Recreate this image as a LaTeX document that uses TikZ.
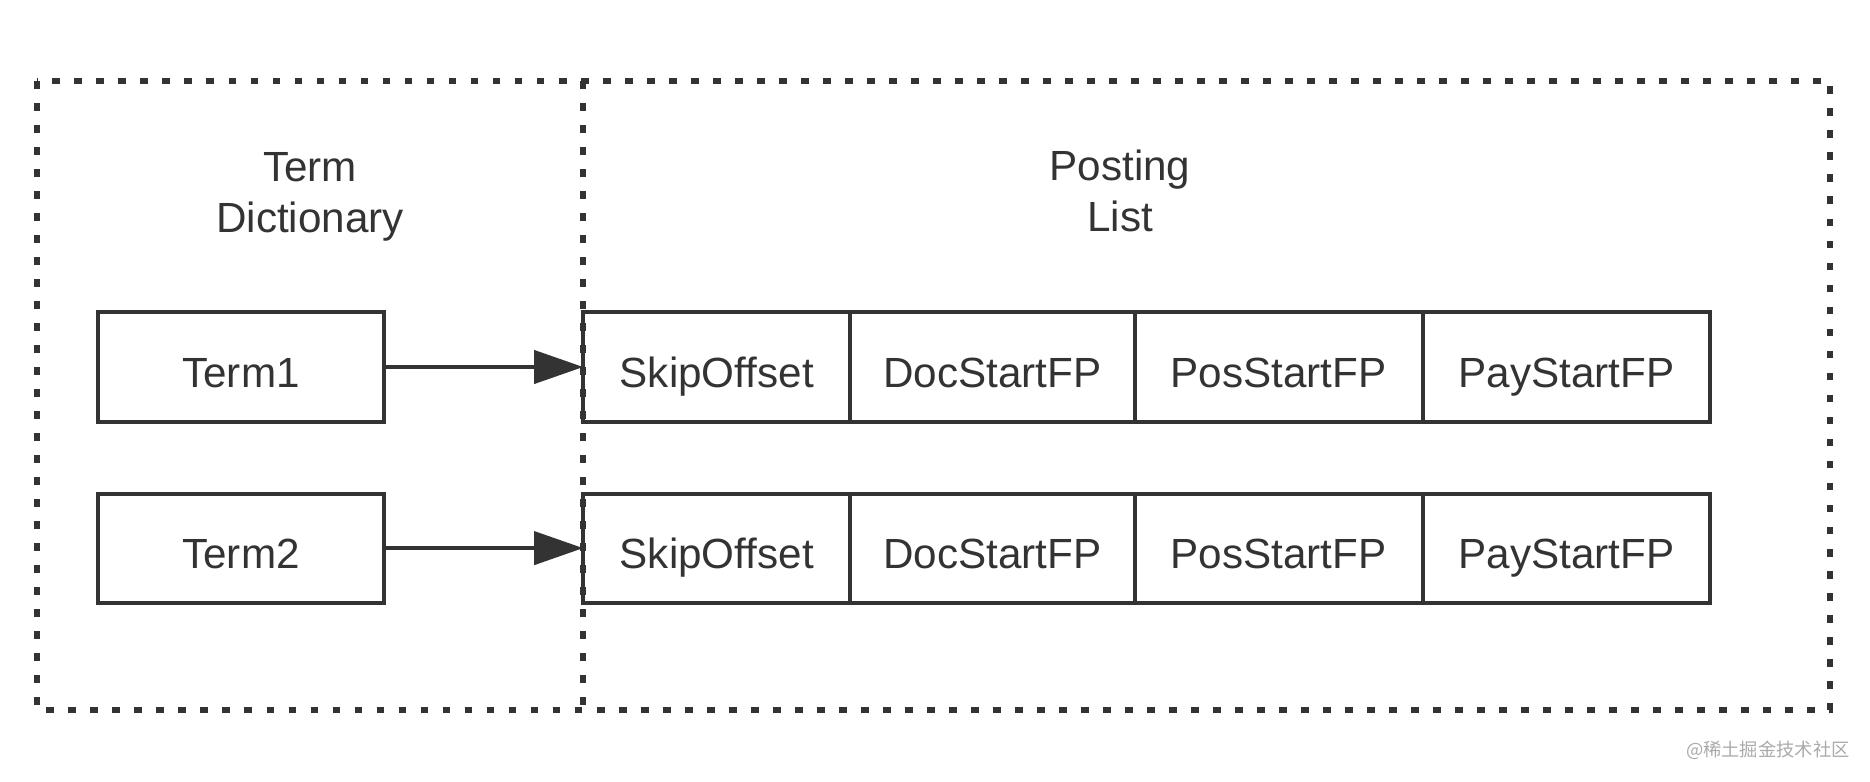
\documentclass[tikz,border=0pt]{standalone}
\usepackage{fontspec}
\setmainfont{Liberation Sans}
\newfontfamily\cjkfont{Noto Sans CJK SC}
\usepackage{xcolor}
\usetikzlibrary{arrows.meta,positioning}
\definecolor{inkgray}{RGB}{51,51,51}
\definecolor{markgray}{RGB}{170,170,170}

\begin{document}
\begin{tikzpicture}[x=0.01cm,y=-0.01cm,node distance=0.72cm and 1.99cm,
  cell/.style={draw=inkgray,line width=0.04cm,minimum height=1.09cm,outer sep=0pt,
    inner sep=0pt,text height=14.2pt,text depth=2.5pt,text=inkgray,font=\fontsize{12}{14}\selectfont},
  termbox/.style={cell,minimum width=2.86cm},
  title/.style={align=center,text=inkgray,font=\fontsize{12}{14.5}\selectfont},
  frame/.style={draw=inkgray,line width=0.058cm,dash pattern=on 0.078cm off 0.142cm},
  arr/.style={-{Triangle[length=0.49cm,width=0.33cm]},line width=0.04cm,draw=inkgray}]
\useasboundingbox (0,0) rectangle (1870,782);
% frames
\draw[frame] (37,81) rectangle (1830,710);
\draw[frame] (583,81) -- (583,710);
\node[title] (dict) at (310,197) {Term\\Dictionary};
\node[title] (plist) at (1120,191) {Posting\\List};
% term dictionary
\node[termbox] (term1) at (241,367) {Term1};
\node[termbox,below=of term1] (term2) {Term2};
% posting lists
\node[cell,right=of term1,minimum width=2.67cm] (skip1) {SkipOffset};
\node[cell,right=0pt of skip1,minimum width=2.84cm] (doc1) {DocStartFP};
\node[cell,right=0pt of doc1,minimum width=2.88cm] (pos1) {PosStartFP};
\node[cell,right=0pt of pos1,minimum width=2.87cm] (pay1) {PayStartFP};
\node[cell,right=of term2,minimum width=2.67cm] (skip2) {SkipOffset};
\node[cell,right=0pt of skip2,minimum width=2.84cm] (doc2) {DocStartFP};
\node[cell,right=0pt of doc2,minimum width=2.88cm] (pos2) {PosStartFP};
\node[cell,right=0pt of pos2,minimum width=2.87cm] (pay2) {PayStartFP};
\draw[arr] (term1) -- (skip1);
\draw[arr] (term2) -- (skip2);
\node[text=markgray,font=\cjkfont\fontsize{5.2}{6}\selectfont,anchor=east] (mark) at (1862,750) {@稀土掘金技术社区};
\end{tikzpicture}
\end{document}
